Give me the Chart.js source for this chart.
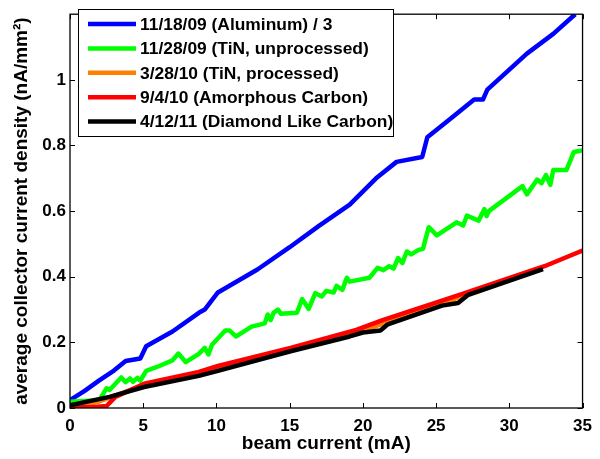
<!DOCTYPE html>
<html>
<head>
<meta charset="utf-8">
<script src="https://cdn.jsdelivr.net/npm/chart.js@4.4.0/dist/chart.umd.min.js"></script>
<style>
	html, body { margin: 0; padding: 0; background: #fff; }
	#chart-collector { display: block; }
</style>
</head>
<body>
<canvas id="chart-collector" width="600" height="459"></canvas>
<script>
// Chart data
const X_TICKS = [0, 5, 10, 15, 20, 25, 30, 35];
const Y_TICKS = [0, 0.2, 0.4, 0.6, 0.8, 1];

const ALUMINUM_X = [0, 1, 2, 3, 3.8, 4.8, 5.2, 7, 8.8, 9.2, 10.1, 12.8, 15, 17, 19.1, 20.9, 22.3, 24.05, 24.4, 26, 27.6, 28.2, 28.5, 31.2, 33, 34.5];
const ALUMINUM_Y = [0.024, 0.052, 0.084, 0.114, 0.143, 0.151, 0.188, 0.233, 0.29, 0.3, 0.352, 0.422, 0.49, 0.555, 0.62, 0.7, 0.75, 0.765, 0.825, 0.882, 0.94, 0.94, 0.97, 1.08, 1.14, 1.2];

const TIN_UNPROC_X = [0, 2, 2.5, 2.7, 3.5, 3.8, 4.1, 4.3, 4.6, 4.8, 5.2, 6.1, 7, 7.4, 7.9, 8.8, 9.2, 9.45, 9.7, 10.6, 10.9, 11.35, 12.4, 13.3, 13.5, 13.7, 13.9, 14.2, 14.4, 15.5, 15.85, 16.3, 16.75, 17.2, 17.5, 18, 18.2, 18.6, 18.9, 19.1, 20.45, 21, 21.4, 21.8, 22.1, 22.4, 22.7, 23, 23.3, 23.8, 24.1, 24.5, 25.05, 26.4, 26.85, 27.1, 27.9, 28.3, 28.45, 28.6, 30.9, 31.2, 31.9, 32.2, 32.5, 32.8, 33, 33.9, 34.4, 35];
const TIN_UNPROC_Y = [0.019, 0.024, 0.06, 0.055, 0.093, 0.079, 0.09, 0.08, 0.092, 0.083, 0.113, 0.128, 0.145, 0.166, 0.14, 0.165, 0.183, 0.163, 0.193, 0.236, 0.236, 0.218, 0.248, 0.258, 0.285, 0.268, 0.29, 0.3, 0.287, 0.29, 0.332, 0.302, 0.35, 0.34, 0.357, 0.352, 0.372, 0.36, 0.397, 0.385, 0.397, 0.427, 0.42, 0.432, 0.425, 0.457, 0.442, 0.477, 0.468, 0.482, 0.485, 0.551, 0.526, 0.566, 0.556, 0.586, 0.571, 0.606, 0.585, 0.6, 0.676, 0.651, 0.696, 0.685, 0.71, 0.68, 0.725, 0.725, 0.78, 0.785];

const TIN_PROC_X = [0, 2, 5, 10, 15, 20, 25, 28, 31];
const TIN_PROC_Y = [0, 0.02, 0.069, 0.12, 0.177, 0.236, 0.313, 0.36, 0.405];

const CARBON_X = [0, 1.5, 2.5, 3.1, 5.06, 8.8, 10.1, 15.06, 19.55, 21.35, 26.75, 32.4, 35];
const CARBON_Y = [0.003, 0.002, 0.006, 0.034, 0.074, 0.11, 0.128, 0.183, 0.238, 0.268, 0.347, 0.432, 0.48];

const DLC_X = [0, 2.7, 5.06, 8.8, 10.1, 15.06, 19.1, 20, 21.2, 21.7, 25.4, 26.5, 27.2, 32.3];
const DLC_Y = [0.008, 0.034, 0.064, 0.098, 0.113, 0.173, 0.218, 0.23, 0.236, 0.255, 0.312, 0.32, 0.345, 0.423];

const FONT_FAMILY = '"Liberation Sans", Arial, Helvetica, sans-serif';

const points = (xs, ys) => xs.map((x, i) => ({ x: x, y: ys[i] }));

const lineSet = (label, xs, ys, color, order) => ({
	label: label,
	data: points(xs, ys),
	borderColor: color,
	backgroundColor: color,
	borderWidth: 4.5,
	borderJoinStyle: "round",
	pointRadius: 0,
	tension: 0,
	fill: false,
	order: order,
});

const CHART_DATA = {
	datasets: [
		lineSet("11/18/09 (Aluminum) / 3", ALUMINUM_X, ALUMINUM_Y, "#0000ff", 5),
		lineSet("11/28/09 (TiN, unprocessed)", TIN_UNPROC_X, TIN_UNPROC_Y, "#00ff00", 4),
		lineSet("3/28/10 (TiN, processed)", TIN_PROC_X, TIN_PROC_Y, "#ff8000", 3),
		lineSet("9/4/10 (Amorphous Carbon)", CARBON_X, CARBON_Y, "#ff0000", 2),
		lineSet("4/12/11 (Diamond Like Carbon)", DLC_X, DLC_Y, "#000000", 1),
	],
};

// Box with inward ticks on all four sides, MATLAB style
const boxPlugin = {
	id: "box",
	afterDraw(chart) {
		const { ctx, chartArea: a, scales } = chart;
		ctx.save();
		ctx.strokeStyle = "#000";
		ctx.lineWidth = 1.3;
		ctx.strokeRect(a.left, a.top, a.right - a.left, a.bottom - a.top);
		ctx.lineWidth = 1;
		ctx.beginPath();
		X_TICKS.forEach((v) => {
			const px = Math.round(scales.x.getPixelForValue(v)) + 0.5;
			ctx.moveTo(px, a.bottom);
			ctx.lineTo(px, a.bottom - 5);
			ctx.moveTo(px, a.top);
			ctx.lineTo(px, a.top + 5);
		});
		Y_TICKS.forEach((v) => {
			const py = Math.round(scales.y.getPixelForValue(v)) + 0.5;
			ctx.moveTo(a.left, py);
			ctx.lineTo(a.left + 5, py);
			ctx.moveTo(a.right, py);
			ctx.lineTo(a.right - 5, py);
		});
		ctx.stroke();
		ctx.restore();
	},
};

// Legend box inside the plot, top left
const legendPlugin = {
	id: "insideLegend",
	afterDraw(chart) {
		const { ctx } = chart;
		const left = 78, top = 9, width = 315, height = 127;
		const rowH = 24.4;
		ctx.save();
		ctx.fillStyle = "#fff";
		ctx.fillRect(left, top, width, height);
		ctx.strokeStyle = "#000";
		ctx.lineWidth = 1;
		ctx.strokeRect(left + 0.5, top + 0.5, width, height);
		ctx.font = "bold 17.4px " + FONT_FAMILY;
		ctx.textBaseline = "middle";
		ctx.textAlign = "left";
		chart.data.datasets.forEach((ds, i) => {
			const y = top + 15 + i * rowH;
			ctx.strokeStyle = ds.borderColor;
			ctx.lineWidth = 4.5;
			ctx.beginPath();
			ctx.moveTo(88, y);
			ctx.lineTo(136, y);
			ctx.stroke();
			ctx.fillStyle = "#000";
			ctx.fillText(ds.label, 140, y + 1);
		});
		ctx.restore();
	},
};

const CHART_CONFIG = {
	type: "line",
	data: CHART_DATA,
	options: {
		responsive: false,
		animation: false,
		devicePixelRatio: 1,
		layout: {
			padding: { top: 6, right: 11, left: 0, bottom: 0 },
		},
		scales: {
			x: {
				type: "linear",
				min: 0,
				max: 35,
				grid: { display: false, drawTicks: false },
				border: { display: false },
				afterBuildTicks: (scale) => {
					scale.ticks = X_TICKS.map((v) => ({ value: v }));
				},
				afterFit: (scale) => {
					scale.height = 51;
				},
				ticks: {
					color: "#000",
					padding: 8,
					maxRotation: 0,
					font: { family: FONT_FAMILY, size: 17, weight: "bold" },
				},
				title: {
					display: true,
					text: "beam current (mA)",
					color: "#000",
					padding: { top: 0, bottom: 4 },
					font: { family: FONT_FAMILY, size: 19, weight: "bold" },
				},
			},
			y: {
				type: "linear",
				min: 0,
				max: 1.2,
				grid: { display: false, drawTicks: false },
				border: { display: false },
				afterBuildTicks: (scale) => {
					scale.ticks = Y_TICKS.map((v) => ({ value: v }));
				},
				afterFit: (scale) => {
					scale.width = 70;
				},
				ticks: {
					color: "#000",
					padding: 4,
					font: { family: FONT_FAMILY, size: 17, weight: "bold" },
					callback: (value) => String(+value.toFixed(1)),
				},
				title: {
					display: true,
					text: "average collector current density (nA/mm²)",
					color: "#000",
					padding: { top: 10, bottom: 0 },
					font: { family: FONT_FAMILY, size: 19, weight: "bold" },
				},
			},
		},
		plugins: {
			legend: { display: false },
			tooltip: { enabled: false },
		},
	},
	plugins: [boxPlugin, legendPlugin],
};

const CHART_WRAPPER = document.getElementById("chart-collector");
if (CHART_WRAPPER) {
	new Chart(CHART_WRAPPER, CHART_CONFIG);
}
</script>
</body>
</html>
